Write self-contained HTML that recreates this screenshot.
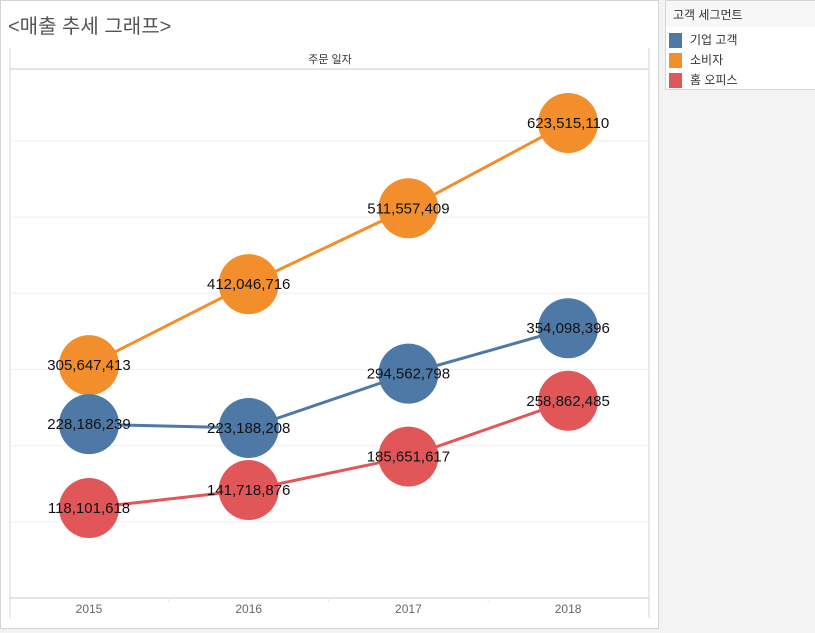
<!DOCTYPE html>
<html><head><meta charset="utf-8"><style>
body{margin:0;width:815px;height:633px;background:#f3f3f3;font-family:"Liberation Sans","Noto Sans CJK KR",sans-serif;overflow:hidden;position:relative}
.panel{position:absolute;left:0;top:0;width:657px;height:627px;background:#fff;border:1px solid #d4d4d4}
.title{position:absolute;left:8px;top:10px;font-size:20px;color:#555}
.legend{position:absolute;left:665px;top:0;width:150px;height:88px;background:#fff;border:1px solid #d4d4d4;border-right:none}
.lt{height:26px;background:#f7f7f7;font-size:12px;color:#333;line-height:28px;padding-left:7px}
.li{height:20px;font-size:12px;color:#333;line-height:20px;padding-left:24px;position:relative}
.li span{position:absolute;left:3px;top:3px;width:13px;height:15px}
</style></head><body>
<div class="panel"></div>
<div class="title">&lt;매출 추세 그래프&gt;</div>
<div class="legend">
<div class="lt">고객 세그먼트</div>
<div class="li" style="margin-top:3px"><span style="background:#4e79a7"></span>기업 고객</div>
<div class="li"><span style="background:#f28e2b"></span>소비자</div>
<div class="li"><span style="background:#e15759"></span>홈 오피스</div>
</div>
<svg id="c" width="815" height="633" style="position:absolute;left:0;top:0"></svg>
<script>
const years=["2015","2016","2017","2018"];
const corporate=[228186239,223188208,294562798,354098396];
const consumer=[305647413,412046716,511557409,623515110];
const homeOffice=[118101618,141718876,185651617,258862485];
const gridTicks=[100000000,200000000,300000000,400000000,500000000,600000000];
const NS="http://www.w3.org/2000/svg";
const svg=document.getElementById('c');
function x(i){return 89+i*159.7;}
function y(v){return 598-v/1e6*0.7618;}
function mk(t,a,p){const e=document.createElementNS(NS,t);for(const k in a)e.setAttribute(k,a[k]);(p||svg).appendChild(e);return e;}
// frame
let e;
e=mk('line',{x1:10,y1:48,x2:10,y2:618,stroke:'#d4d4d4'});
e=mk('line',{x1:649,y1:48,x2:649,y2:618,stroke:'#d4d4d4'});
e=mk('line',{x1:10,y1:69,x2:649,y2:69,stroke:'#c8c8c8'});
e=mk('text',{x:330,y:63,'text-anchor':'middle','font-size':11,fill:'#333'});e.textContent='주문 일자';
gridTicks.forEach(v=>{const g=mk('line',{x1:10,x2:649,y1:y(v),y2:y(v),stroke:'#efefef'});});
e=mk('line',{x1:10,y1:598,x2:649,y2:598,stroke:'#c8c8c8'});
years.forEach((yr,i)=>{
 if(i>0){const d=mk('line',{x1:x(i)-80,x2:x(i)-80,y1:598,y2:602,stroke:'#e6e6e6'});}
 const t=mk('text',{x:x(i),y:613,'text-anchor':'middle','font-size':12,fill:'#666'});t.textContent=yr;
});
const series=[["consumer",consumer,"#f28e2b"],["corporate",corporate,"#4e79a7"],["home-office",homeOffice,"#e15759"]];
series.forEach(([n,d,c])=>{
 const l=mk('polyline',{points:d.map((v,i)=>x(i)+','+y(v)).join(' '),fill:'none',stroke:c,'stroke-width':3});
 
});
series.forEach(([n,d,c])=>{
 d.forEach((v,i)=>{
  const ci=mk('circle',{cx:x(i),cy:y(v),r:30,fill:c});
  
 });
});
series.forEach(([n,d,c])=>{
 d.forEach((v,i)=>{
  const t=mk('text',{x:x(i),y:y(v)+5,'text-anchor':'middle','font-size':15,fill:'#111'});
  t.textContent=v.toLocaleString('en-US');
  
 });
});
</script>
</body></html>
